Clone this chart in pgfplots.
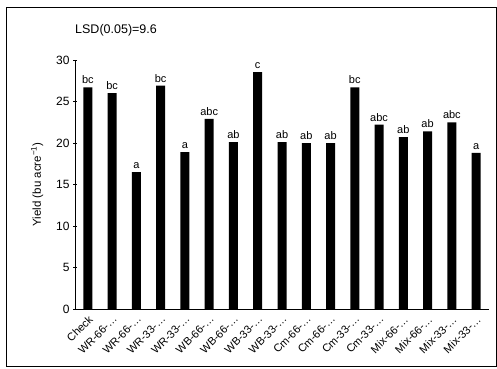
\documentclass[border=0pt]{standalone}
\usepackage{fontspec}
\setmainfont{Liberation Sans}
\usepackage{pgfplots}
\pgfplotsset{compat=1.18}
\usepackage{pgfplotstable}
\pgfplotstableread{
x y lab
0 26.7 bc
1 26.0 bc
2 16.5 a
3 26.9 bc
4 18.9 a
5 22.9 abc
6 20.1 ab
7 28.55 c
8 20.1 ab
9 20.0 ab
10 20.0 ab
11 26.7 bc
12 22.2 abc
13 20.7 ab
14 21.4 ab
15 22.5 abc
16 18.8 a
}\datatable
\begin{document}
\begin{tikzpicture}
\useasboundingbox (0bp,0bp) rectangle (497bp,369bp);
\draw[line width=0.9bp] (6bp,3bp) rectangle (496bp,362bp);
\node[anchor=base west, font=\fontsize{12.5bp}{14bp}\selectfont, inner sep=0pt] at (75bp,335bp) {LSD(0.05)=9.6};
\begin{axis}[
  at={(75bp,60bp)}, anchor=south west,
  scale only axis, width=414bp, height=249bp,
  xmin=-0.53, xmax=16.53, ymin=0, ymax=30,
  axis lines=left, axis line style={-, line width=0.8bp},
  /pgf/number format/assume math mode=true,
  ytick={0,5,...,30}, ytick pos=left,
  major tick length=4bp, tick style={black, line width=0.8bp},
  xtick={0,...,16}, xtick style={draw=none},
  xticklabels={Check, WR-66-…, WR-66-…, WR-33-…, WR-33-…, WB-66-…, WB-66-…, WB-33-…, WB-33-…, Cm-66-…, Cm-66-…, Cm-33-…, Cm-33-…, Mix-66-…, Mix-66-…, Mix-33-…, Mix-33-…},
  xticklabel style={rotate=45, anchor=north east, inner sep=1pt, font=\fontsize{11bp}{12bp}\selectfont},
  yticklabel style={font=\fontsize{12bp}{13bp}\selectfont},
  ylabel={Yield (bu acre\textsuperscript{−1})},
  ylabel shift=6bp,
  ylabel style={font=\fontsize{11.5bp}{13bp}\selectfont},
  ybar, bar width=9bp,
  nodes near coords={\pgfplotspointmeta},
  point meta=explicit symbolic,
  every node near coord/.append style={font=\fontsize{11bp}{12bp}\selectfont, black},
]
\addplot[fill=black, draw=none] table[x=x, y=y, meta=lab] {\datatable};
\end{axis}
\end{tikzpicture}
\end{document}
